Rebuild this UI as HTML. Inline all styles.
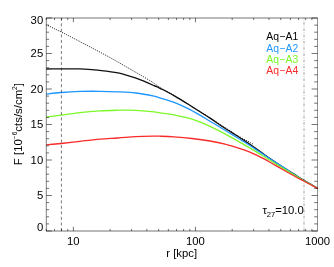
<!DOCTYPE html>
<html><head><meta charset="utf-8"><style>
html,body{margin:0;padding:0;background:#fff;}
svg{display:block;will-change:transform;}
text{font-family:"Liberation Sans",sans-serif;font-size:11.3px;fill:#000;}
.lg text{font-size:10.4px;letter-spacing:0.17px;}
</style></head><body>
<svg width="334" height="267" viewBox="0 0 334 267">
<rect width="334" height="267" fill="#fff"/>
<defs><clipPath id="c"><rect x="46.3" y="18.0" width="271.7" height="213.0"/></clipPath></defs>
<g fill="none" stroke-width="1.3" clip-path="url(#c)" stroke-linejoin="round">
<path d="M46.00 69.00 C51.67 68.98 71.00 68.67 80.00 68.90 C89.00 69.13 93.67 69.73 100.00 70.40 C106.33 71.07 112.00 71.62 118.00 72.90 C124.00 74.18 131.50 76.63 136.00 78.10 C140.50 79.57 142.00 80.45 145.00 81.70 C148.00 82.95 151.50 84.50 154.00 85.60 C156.50 86.70 156.67 86.63 160.00 88.30 C163.33 89.97 168.67 92.53 174.00 95.60 C179.33 98.67 186.00 102.95 192.00 106.70 C198.00 110.45 204.50 114.50 210.00 118.10 C215.50 121.70 219.33 124.58 225.00 128.30 C230.67 132.02 238.83 137.02 244.00 140.40 C249.17 143.78 252.67 146.30 256.00 148.60 C259.33 150.90 261.67 152.55 264.00 154.20 C266.33 155.85 266.67 156.23 270.00 158.50 C273.33 160.77 279.67 165.00 284.00 167.80 C288.33 170.60 292.73 173.25 296.00 175.30 C299.27 177.35 299.93 177.90 303.60 180.10 C307.27 182.30 315.60 187.10 318.00 188.50" stroke="#111"/>
<path d="M46.20 24.70 C48.72 25.92 56.67 29.70 61.30 32.00 C65.93 34.30 70.22 36.53 74.00 38.50 C77.78 40.47 79.83 41.62 84.00 43.80 C88.17 45.98 94.00 48.93 99.00 51.60 C104.00 54.27 109.00 57.00 114.00 59.80 C119.00 62.60 123.00 64.92 129.00 68.40 C135.00 71.88 144.83 77.53 150.00 80.70 C155.17 83.87 156.00 84.93 160.00 87.40 C164.00 89.87 168.67 92.32 174.00 95.50 C179.33 98.68 186.00 102.78 192.00 106.50 C198.00 110.22 204.50 114.28 210.00 117.80 C215.50 121.32 220.00 124.40 225.00 127.60 C230.00 130.80 235.33 134.27 240.00 137.00 C244.67 139.73 250.83 142.83 253.00 144.00" stroke="#000" stroke-width="0.9" stroke-dasharray="1 1.2"/>
<path d="M46.00 94.10 C48.50 93.83 55.33 92.95 61.00 92.50 C66.67 92.05 73.50 91.60 80.00 91.40 C86.50 91.20 93.67 91.23 100.00 91.30 C106.33 91.37 112.00 91.52 118.00 91.80 C124.00 92.08 130.00 92.28 136.00 93.00 C142.00 93.72 150.00 95.28 154.00 96.10 C158.00 96.92 156.67 96.85 160.00 97.90 C163.33 98.95 169.33 100.62 174.00 102.40 C178.67 104.18 184.67 107.03 188.00 108.60 C191.33 110.17 191.00 110.12 194.00 111.80 C197.00 113.48 200.83 115.62 206.00 118.70 C211.17 121.78 218.67 126.45 225.00 130.30 C231.33 134.15 238.83 138.58 244.00 141.80 C249.17 145.02 252.67 147.43 256.00 149.60 C259.33 151.77 261.67 153.28 264.00 154.80 C266.33 156.32 266.67 156.52 270.00 158.70 C273.33 160.88 279.67 165.05 284.00 167.90 C288.33 170.75 292.73 173.70 296.00 175.80 C299.27 177.90 299.93 178.38 303.60 180.50 C307.27 182.62 315.60 187.17 318.00 188.50" stroke="#1e96ff"/>
<path d="M46.00 117.10 C48.50 116.77 55.33 115.85 61.00 115.10 C66.67 114.35 73.50 113.30 80.00 112.60 C86.50 111.90 93.67 111.30 100.00 110.90 C106.33 110.50 113.50 110.33 118.00 110.20 C122.50 110.07 124.00 110.07 127.00 110.10 C130.00 110.13 131.50 110.10 136.00 110.40 C140.50 110.70 150.00 111.48 154.00 111.90 C158.00 112.32 156.67 112.40 160.00 112.90 C163.33 113.40 168.67 113.85 174.00 114.90 C179.33 115.95 186.00 117.28 192.00 119.20 C198.00 121.12 204.50 123.95 210.00 126.40 C215.50 128.85 219.33 130.87 225.00 133.90 C230.67 136.93 238.83 141.65 244.00 144.60 C249.17 147.55 252.67 149.62 256.00 151.60 C259.33 153.58 261.67 155.05 264.00 156.50 C266.33 157.95 266.67 158.23 270.00 160.30 C273.33 162.37 279.67 166.28 284.00 168.90 C288.33 171.52 292.73 174.07 296.00 176.00 C299.27 177.93 299.93 178.42 303.60 180.50 C307.27 182.58 315.60 187.17 318.00 188.50" stroke="#7cf828"/>
<path d="M46.00 144.90 C48.50 144.67 55.33 144.10 61.00 143.50 C66.67 142.90 73.50 142.02 80.00 141.30 C86.50 140.58 93.67 139.75 100.00 139.20 C106.33 138.65 112.00 138.43 118.00 138.00 C124.00 137.57 130.00 136.92 136.00 136.60 C142.00 136.28 150.00 136.17 154.00 136.10 C158.00 136.03 156.67 136.07 160.00 136.20 C163.33 136.33 168.67 136.52 174.00 136.90 C179.33 137.28 186.00 137.82 192.00 138.50 C198.00 139.18 204.50 140.05 210.00 141.00 C215.50 141.95 219.33 142.72 225.00 144.20 C230.67 145.68 238.83 148.12 244.00 149.90 C249.17 151.68 252.67 153.40 256.00 154.90 C259.33 156.40 261.67 157.68 264.00 158.90 C266.33 160.12 266.67 160.30 270.00 162.20 C273.33 164.10 279.67 167.83 284.00 170.30 C288.33 172.77 292.73 175.22 296.00 177.00 C299.27 178.78 299.93 179.07 303.60 181.00 C307.27 182.93 315.60 187.33 318.00 188.60" stroke="#fa2a2a"/>
</g>
<g fill="none" stroke="#000" stroke-width="0.55">
<path d="M61.4 231.0 V18.0" stroke-dasharray="3.05 2.48" stroke-width="0.52"/>
<path d="M304.0 231.0 V18.0" stroke-dasharray="2.6 1.3 0.7 1.65" stroke-width="0.55" stroke="#555"/>
</g>
<g fill="none" stroke="#000" stroke-width="0.55">
<path d="M46.05 18.0 H317.75 M46.05 231.0 H317.75"/>
<path d="M46.3 18.0 V231.0" stroke-width="0.5"/>
<path d="M317.5 18.0 V231.0" stroke-width="0.44"/>
<path d="M46.30 231.00 v-2.10 M46.30 18.00 v2.10"/><path d="M54.47 231.00 v-2.10 M54.47 18.00 v2.10"/><path d="M61.55 231.00 v-2.10 M61.55 18.00 v2.10"/><path d="M67.79 231.00 v-2.10 M67.79 18.00 v2.10"/><path d="M73.38 231.00 v-4.30 M73.38 18.00 v4.30"/><path d="M110.12 231.00 v-2.10 M110.12 18.00 v2.10"/><path d="M131.62 231.00 v-2.10 M131.62 18.00 v2.10"/><path d="M146.87 231.00 v-2.10 M146.87 18.00 v2.10"/><path d="M158.70 231.00 v-2.10 M158.70 18.00 v2.10"/><path d="M168.36 231.00 v-2.10 M168.36 18.00 v2.10"/><path d="M176.53 231.00 v-2.10 M176.53 18.00 v2.10"/><path d="M183.61 231.00 v-2.10 M183.61 18.00 v2.10"/><path d="M189.85 231.00 v-2.10 M189.85 18.00 v2.10"/><path d="M195.44 231.00 v-4.30 M195.44 18.00 v4.30"/><path d="M232.18 231.00 v-2.10 M232.18 18.00 v2.10"/><path d="M253.68 231.00 v-2.10 M253.68 18.00 v2.10"/><path d="M268.93 231.00 v-2.10 M268.93 18.00 v2.10"/><path d="M280.76 231.00 v-2.10 M280.76 18.00 v2.10"/><path d="M290.42 231.00 v-2.10 M290.42 18.00 v2.10"/><path d="M298.59 231.00 v-2.10 M298.59 18.00 v2.10"/><path d="M305.67 231.00 v-2.10 M305.67 18.00 v2.10"/><path d="M311.91 231.00 v-2.10 M311.91 18.00 v2.10"/><path d="M46.30 231.00 h5.60 M317.50 231.00 h-5.90"/><path d="M46.30 223.90 h2.80 M317.50 223.90 h-3.30"/><path d="M46.30 216.80 h2.80 M317.50 216.80 h-3.30"/><path d="M46.30 209.70 h2.80 M317.50 209.70 h-3.30"/><path d="M46.30 202.60 h2.80 M317.50 202.60 h-3.30"/><path d="M46.30 195.50 h5.60 M317.50 195.50 h-5.90"/><path d="M46.30 188.40 h2.80 M317.50 188.40 h-3.30"/><path d="M46.30 181.30 h2.80 M317.50 181.30 h-3.30"/><path d="M46.30 174.20 h2.80 M317.50 174.20 h-3.30"/><path d="M46.30 167.10 h2.80 M317.50 167.10 h-3.30"/><path d="M46.30 160.00 h5.60 M317.50 160.00 h-5.90"/><path d="M46.30 152.90 h2.80 M317.50 152.90 h-3.30"/><path d="M46.30 145.80 h2.80 M317.50 145.80 h-3.30"/><path d="M46.30 138.70 h2.80 M317.50 138.70 h-3.30"/><path d="M46.30 131.60 h2.80 M317.50 131.60 h-3.30"/><path d="M46.30 124.50 h5.60 M317.50 124.50 h-5.90"/><path d="M46.30 117.40 h2.80 M317.50 117.40 h-3.30"/><path d="M46.30 110.30 h2.80 M317.50 110.30 h-3.30"/><path d="M46.30 103.20 h2.80 M317.50 103.20 h-3.30"/><path d="M46.30 96.10 h2.80 M317.50 96.10 h-3.30"/><path d="M46.30 89.00 h5.60 M317.50 89.00 h-5.90"/><path d="M46.30 81.90 h2.80 M317.50 81.90 h-3.30"/><path d="M46.30 74.80 h2.80 M317.50 74.80 h-3.30"/><path d="M46.30 67.70 h2.80 M317.50 67.70 h-3.30"/><path d="M46.30 60.60 h2.80 M317.50 60.60 h-3.30"/><path d="M46.30 53.50 h5.60 M317.50 53.50 h-5.90"/><path d="M46.30 46.40 h2.80 M317.50 46.40 h-3.30"/><path d="M46.30 39.30 h2.80 M317.50 39.30 h-3.30"/><path d="M46.30 32.20 h2.80 M317.50 32.20 h-3.30"/><path d="M46.30 25.10 h2.80 M317.50 25.10 h-3.30"/><path d="M46.30 18.00 h5.60 M317.50 18.00 h-5.90"/>
</g>
<text x="43.2" y="230.90" text-anchor="end">0</text><text x="43.2" y="199.00" text-anchor="end">5</text><text x="43.2" y="163.50" text-anchor="end">10</text><text x="43.2" y="128.00" text-anchor="end">15</text><text x="43.2" y="92.50" text-anchor="end">20</text><text x="43.2" y="57.00" text-anchor="end">25</text><text x="43.2" y="24.20" text-anchor="end">30</text>
<text x="73.38" y="245.1" text-anchor="middle">10</text><text x="195.44" y="245.1" text-anchor="middle">100</text><text x="317.50" y="245.1" text-anchor="middle">1000</text>
<text x="181.7" y="256.6" text-anchor="middle">r [kpc]</text>
<text transform="translate(21.6,124.1) rotate(-90)" text-anchor="middle" style="font-size:11.4px">F [10<tspan font-size="6.6" dy="-4.9">−6</tspan><tspan dy="4.9">cts/s/cm</tspan><tspan font-size="6.6" dy="-4.9">2</tspan><tspan dy="4.9">]</tspan></text>
<g class="lg">
<text x="266.2" y="40.1" fill="#000">Aq−A1</text>
<text x="266.2" y="51.5" style="fill:#1e96ff">Aq−A2</text>
<text x="266.2" y="62.8" style="fill:#7cf828">Aq−A3</text>
<text x="266.2" y="74.1" style="fill:#fa2a2a">Aq−A4</text>
</g>
<text x="262.4" y="214.3">τ<tspan font-size="7.5" dy="2.2">27</tspan><tspan dy="-2.2">=10.0</tspan></text>
</svg>
</body></html>
